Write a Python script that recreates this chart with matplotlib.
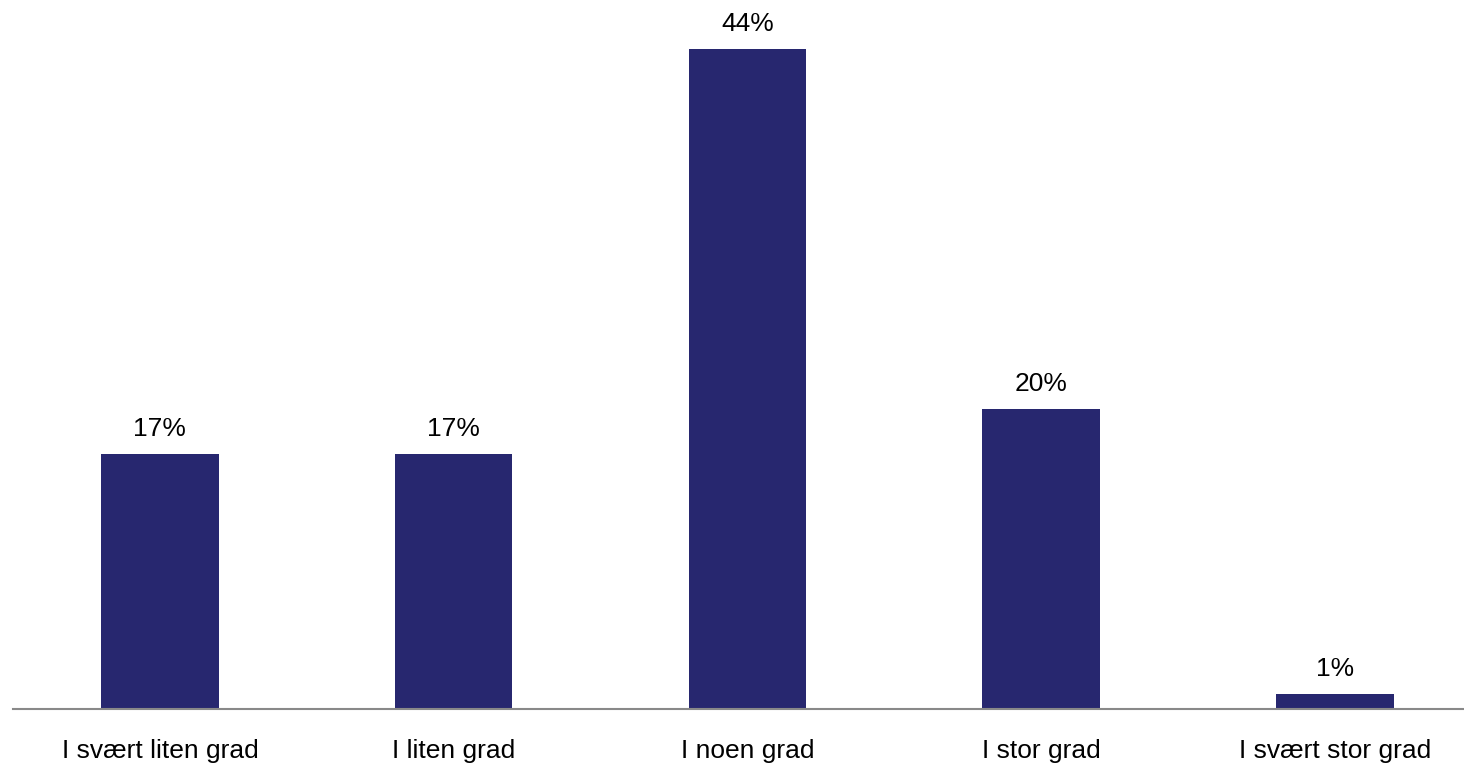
import matplotlib.pyplot as plt

plt.rcParams['font.family'] = ['Liberation Sans', 'DejaVu Sans']

categories = ['I svært liten grad', 'I liten grad', 'I noen grad', 'I stor grad', 'I svært stor grad']
values = [17, 17, 44, 20, 1]
labels = ['17%', '17%', '44%', '20%', '1%']

W, H = 1464, 766
fig = plt.figure(figsize=(W / 100, H / 100), dpi=100)
# axes from the left end of the baseline to the right edge of the figure
ax = fig.add_axes([13 / W, 1 - 709 / H, 1 - 13 / W, 709 / H])

x = list(range(len(categories)))
ax.bar(x, values, width=0.4, color='#27276f')
for xi, v, lab in zip(x, values, labels):
    ax.annotate(lab, (xi, v), xytext=(0, 9), textcoords='offset points',
                ha='center', va='bottom', fontsize=19)

ax.set_xlim(-0.5, (W - 160) / 293.75)
ax.set_ylim(0, 709 / 15)
ax.set_xticks(x)
ax.set_xticklabels(categories, fontsize=19)
ax.tick_params(axis='x', length=0, pad=21.5)
ax.set_yticks([])
for side in ['top', 'right', 'left']:
    ax.spines[side].set_visible(False)
ax.spines['bottom'].set_color('#898989')
ax.spines['bottom'].set_linewidth(1.5)

fig.savefig('out.png', dpi=100)
